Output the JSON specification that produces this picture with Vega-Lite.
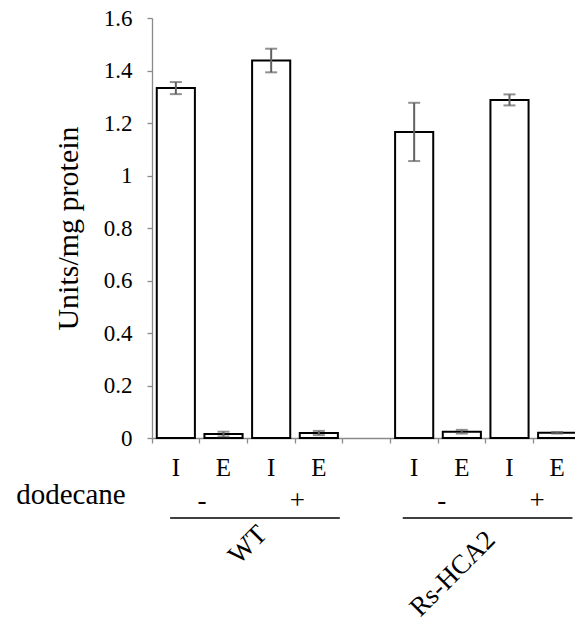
{
  "$schema": "https://vega.github.io/schema/vega-lite/v6.json",
  "width": 429,
  "height": 420,
  "autosize": {"type": "none"},
  "padding": {"left": 152, "top": 18, "right": 0, "bottom": 186},
  "background": "white",
  "config": {
    "view": {"stroke": null},
    "font": "Liberation Serif",
    "axis": {"grid": false, "labelFont": "Liberation Serif", "titleFont": "Liberation Serif", "labelColor": "black", "titleColor": "black"},
    "axisY": {
      "titleFontSize": 30, "titleFontWeight": "normal", "titlePadding": 20,
      "labelFontSize": 23, "labelPadding": 15,
      "tickSize": 5, "tickColor": "#8a8a8a", "tickWidth": 1.3,
      "domainColor": "#8a8a8a", "domainWidth": 1.3
    },
    "text": {"font": "Liberation Serif"}
  },
  "resolve": {"scale": {"x": "independent"}, "axis": {"x": "independent", "y": "shared"}},
  "layer": [
    {
      "data": {
        "values": [
          {"slot": "I1", "strain": "WT", "dodecane": "-", "fraction": "I", "value": 1.333, "lo": 1.310, "hi": 1.356},
          {"slot": "E1", "strain": "WT", "dodecane": "-", "fraction": "E", "value": 0.015, "lo": 0.006, "hi": 0.024},
          {"slot": "I2", "strain": "WT", "dodecane": "+", "fraction": "I", "value": 1.438, "lo": 1.393, "hi": 1.483},
          {"slot": "E2", "strain": "WT", "dodecane": "+", "fraction": "E", "value": 0.019, "lo": 0.011, "hi": 0.027},
          {"slot": "I3", "strain": "Rs-HCA2", "dodecane": "-", "fraction": "I", "value": 1.166, "lo": 1.055, "hi": 1.277},
          {"slot": "E3", "strain": "Rs-HCA2", "dodecane": "-", "fraction": "E", "value": 0.024, "lo": 0.017, "hi": 0.031},
          {"slot": "I4", "strain": "Rs-HCA2", "dodecane": "+", "fraction": "I", "value": 1.288, "lo": 1.267, "hi": 1.309},
          {"slot": "E4", "strain": "Rs-HCA2", "dodecane": "+", "fraction": "E", "value": 0.02, "lo": 0.017, "hi": 0.023}
        ]
      },
      "layer": [
        {
          "mark": {"type": "bar", "width": {"band": 0.8}, "fill": "white", "stroke": "black", "strokeWidth": 2},
          "encoding": {
            "x": {
              "field": "slot", "type": "nominal",
              "scale": {"domain": ["I1", "E1", "I2", "E2", "gap", "I3", "E3", "I4", "E4"], "paddingInner": 0, "paddingOuter": 0},
              "axis": {
                "title": null, "labelAngle": 0,
                "labelExpr": "datum.value == 'gap' ? '' : substring(datum.value, 0, 1)",
                "labelFontSize": 25, "labelPadding": 12,
                "bandPosition": 0, "tickSize": 5, "tickColor": "#8a8a8a", "tickWidth": 1.3,
                "domainColor": "#8a8a8a", "domainWidth": 1.3
              }
            },
            "y": {
              "field": "value", "type": "quantitative",
              "scale": {"domain": [0, 1.6], "nice": false},
              "axis": {"title": "Units/mg protein", "values": [0, 0.2, 0.4, 0.6, 0.8, 1, 1.2, 1.4, 1.6], "format": "~g"}
            }
          }
        },
        {
          "mark": {"type": "rule", "color": "#616161", "strokeWidth": 2},
          "encoding": {
            "x": {"field": "slot", "type": "nominal", "scale": {"domain": ["I1", "E1", "I2", "E2", "gap", "I3", "E3", "I4", "E4"], "paddingInner": 0, "paddingOuter": 0}},
            "y": {"field": "lo", "type": "quantitative", "scale": {"domain": [0, 1.6], "nice": false}, "axis": {"title": "Units/mg protein", "values": [0, 0.2, 0.4, 0.6, 0.8, 1, 1.2, 1.4, 1.6], "format": "~g"}},
            "y2": {"field": "hi"}
          }
        },
        {
          "mark": {"type": "tick", "color": "#616161", "size": 12, "thickness": 2},
          "encoding": {
            "x": {"field": "slot", "type": "nominal", "scale": {"domain": ["I1", "E1", "I2", "E2", "gap", "I3", "E3", "I4", "E4"], "paddingInner": 0, "paddingOuter": 0}},
            "y": {"field": "hi", "type": "quantitative", "scale": {"domain": [0, 1.6], "nice": false}, "axis": {"title": "Units/mg protein", "values": [0, 0.2, 0.4, 0.6, 0.8, 1, 1.2, 1.4, 1.6], "format": "~g"}}
          }
        },
        {
          "mark": {"type": "tick", "color": "#616161", "size": 12, "thickness": 2},
          "encoding": {
            "x": {"field": "slot", "type": "nominal", "scale": {"domain": ["I1", "E1", "I2", "E2", "gap", "I3", "E3", "I4", "E4"], "paddingInner": 0, "paddingOuter": 0}},
            "y": {"field": "lo", "type": "quantitative", "scale": {"domain": [0, 1.6], "nice": false}, "axis": {"title": "Units/mg protein", "values": [0, 0.2, 0.4, 0.6, 0.8, 1, 1.2, 1.4, 1.6], "format": "~g"}}
          }
        }
      ]
    },
    {
      "layer": [
        {
          "data": {"values": [{"label": "dodecane", "pos": -1.7, "level": -0.251}]},
          "mark": {"type": "text", "font": "Liberation Serif", "fontSize": 29, "align": "center", "baseline": "alphabetic", "color": "black"},
          "encoding": {
            "x": {"field": "pos", "type": "quantitative", "scale": {"domain": [0, 9], "nice": false, "zero": false}, "axis": null},
            "y": {"field": "level", "type": "quantitative", "scale": {"domain": [0, 1.6], "nice": false}, "axis": {"title": "Units/mg protein", "values": [0, 0.2, 0.4, 0.6, 0.8, 1, 1.2, 1.4, 1.6], "format": "~g"}},
            "text": {"field": "label"}
          }
        },
        {
          "data": {"values": [
            {"label": "-", "pos": 1.05, "level": -0.27},
            {"label": "+", "pos": 3.05, "level": -0.27},
            {"label": "-", "pos": 6.08, "level": -0.27},
            {"label": "+", "pos": 8.08, "level": -0.27}
          ]},
          "mark": {"type": "text", "font": "Liberation Serif", "fontSize": 27, "align": "center", "baseline": "alphabetic", "color": "black"},
          "encoding": {
            "x": {"field": "pos", "type": "quantitative", "scale": {"domain": [0, 9], "nice": false, "zero": false}, "axis": null},
            "y": {"field": "level", "type": "quantitative", "scale": {"domain": [0, 1.6], "nice": false}, "axis": {"title": "Units/mg protein", "values": [0, 0.2, 0.4, 0.6, 0.8, 1, 1.2, 1.4, 1.6], "format": "~g"}},
            "text": {"field": "label"}
          }
        },
        {
          "data": {"values": [
            {"strain": "WT", "from": 0.38, "to": 3.94, "level": -0.305},
            {"strain": "Rs-HCA2", "from": 5.26, "to": 8.82, "level": -0.305}
          ]},
          "mark": {"type": "rule", "color": "black", "strokeWidth": 1.5},
          "encoding": {
            "x": {"field": "from", "type": "quantitative", "scale": {"domain": [0, 9], "nice": false, "zero": false}, "axis": null},
            "x2": {"field": "to"},
            "y": {"field": "level", "type": "quantitative", "scale": {"domain": [0, 1.6], "nice": false}, "axis": {"title": "Units/mg protein", "values": [0, 0.2, 0.4, 0.6, 0.8, 1, 1.2, 1.4, 1.6], "format": "~g"}}
          }
        },
        {
          "data": {"values": [
            {"strain": "WT", "pos": 2.01, "level": -0.408},
            {"strain": "Rs-HCA2", "pos": 6.31, "level": -0.518}
          ]},
          "mark": {"type": "text", "font": "Liberation Serif", "fontSize": 27, "align": "center", "baseline": "middle", "angle": -45, "color": "black"},
          "encoding": {
            "x": {"field": "pos", "type": "quantitative", "scale": {"domain": [0, 9], "nice": false, "zero": false}, "axis": null},
            "y": {"field": "level", "type": "quantitative", "scale": {"domain": [0, 1.6], "nice": false}, "axis": {"title": "Units/mg protein", "values": [0, 0.2, 0.4, 0.6, 0.8, 1, 1.2, 1.4, 1.6], "format": "~g"}},
            "text": {"field": "strain"}
          }
        }
      ]
    }
  ]
}
